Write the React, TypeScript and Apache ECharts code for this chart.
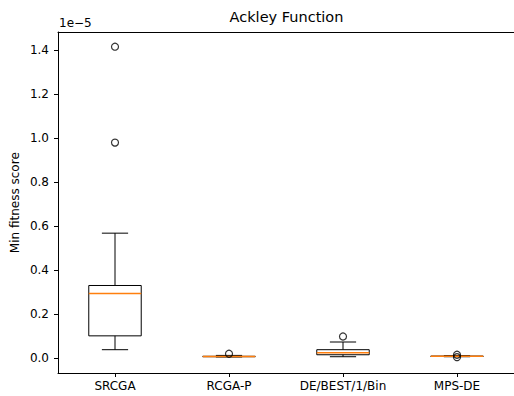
import React, { useEffect, useRef } from "react";
import * as echarts from "echarts";

// Values are in units of 1e-5
const categories = ["SRCGA", "RCGA-P", "DE/BEST/1/Bin", "MPS-DE"];
const whiskerLow = [0.038, 0.005, 0.006, 0.006];
const q1 = [0.101, 0.006, 0.015, 0.007];
const median = [0.294, 0.007, 0.024, 0.008];
const q3 = [0.33, 0.008, 0.038, 0.009];
const whiskerHigh = [0.568, 0.012, 0.073, 0.011];
const outlierCat = [0, 0, 1, 2, 3, 3];
const outlierVal = [1.416, 0.98, 0.0195, 0.098, 0.015, 0.004];
const yTicks = [0, 0.2, 0.4, 0.6, 0.8, 1.0, 1.2, 1.4];

const FONT = "DejaVu Sans";

export default function App() {
  const ref = useRef<HTMLDivElement>(null);
  useEffect(() => {
    if (!ref.current) return;
    const chart = echarts.init(ref.current, null, { renderer: "svg" });
    const boxData = categories.map((_, i) => [i, whiskerLow[i], q1[i], median[i], q3[i], whiskerHigh[i]]);
    const outData = outlierCat.map((c, i) => [c, outlierVal[i]]);
    chart.setOption({
      animation: false,
      grid: {
        left: 58,
        top: 32,
        right: 0,
        bottom: 23,
        show: false,
      },
      xAxis: [
        {
          type: "category",
          data: categories,
          axisLine: { show: true, onZero: false, lineStyle: { color: "#000", width: 1 } },
          axisTick: { show: true, alignWithLabel: true, length: 4, lineStyle: { color: "#000" } },
          axisLabel: { color: "#000", fontSize: 12, fontFamily: FONT, margin: 7 },
          splitLine: { show: false },
        },
        {
          type: "category",
          position: "top",
          data: categories,
          axisLine: { show: true, onZero: false, lineStyle: { color: "#000", width: 1 } },
          axisTick: { show: false },
          axisLabel: { show: false },
          splitLine: { show: false },
        },
      ],
      yAxis: {
        type: "value",
        min: -0.068,
        max: 1.483,
        axisLine: { show: true, lineStyle: { color: "#000", width: 1 } },
        axisTick: { show: true, length: 4, customValues: yTicks, lineStyle: { color: "#000" } },
        axisLabel: {
          color: "#000",
          fontSize: 12,
          fontFamily: FONT,
          margin: 9,
          customValues: yTicks,
          formatter: (v: number) => v.toFixed(1),
        },
        splitLine: { show: false },
      },
      graphic: [
        {
          type: "text",
          x: 286.5,
          y: 17,
          style: {
            text: "Ackley Function",
            fontSize: 14.5,
            fontFamily: FONT,
            fill: "#000",
            align: "center",
            verticalAlign: "middle",
          },
        },
        {
          type: "text",
          x: 59,
          y: 22.5,
          style: {
            text: "1e\u22125",
            fontSize: 12,
            fontFamily: FONT,
            fill: "#000",
            align: "left",
            verticalAlign: "middle",
          },
        },
        {
          type: "text",
          x: 14.5,
          y: 202.7,
          rotation: Math.PI / 2,
          style: {
            text: "Min fitness score",
            fontSize: 12,
            fontFamily: FONT,
            fill: "#000",
            align: "center",
            verticalAlign: "middle",
          },
        },
      ],
      series: [
        {
          type: "custom",
          data: boxData,
          encode: { x: 0, y: [1, 2, 3, 4, 5] },
          renderItem: (params: any, api: any) => {
            const idx = api.value(0);
            const pLow = api.coord([idx, api.value(1)]);
            const pQ1 = api.coord([idx, api.value(2)]);
            const pMed = api.coord([idx, api.value(3)]);
            const pQ3 = api.coord([idx, api.value(4)]);
            const pHigh = api.coord([idx, api.value(5)]);
            const band = api.size([1, 0])[0];
            const bw = band * 0.46;
            const cw = bw / 2;
            const cx = pMed[0];
            const stroke = { stroke: "#000", lineWidth: 1, fill: "none" };
            return {
              type: "group",
              children: [
                { type: "line", shape: { x1: cx, y1: pQ3[1], x2: cx, y2: pHigh[1] }, style: stroke },
                { type: "line", shape: { x1: cx, y1: pQ1[1], x2: cx, y2: pLow[1] }, style: stroke },
                { type: "line", shape: { x1: cx - cw / 2, y1: pHigh[1], x2: cx + cw / 2, y2: pHigh[1] }, style: stroke },
                { type: "line", shape: { x1: cx - cw / 2, y1: pLow[1], x2: cx + cw / 2, y2: pLow[1] }, style: stroke },
                {
                  type: "rect",
                  shape: { x: cx - bw / 2, y: pQ3[1], width: bw, height: pQ1[1] - pQ3[1] },
                  style: stroke,
                },
                {
                  type: "line",
                  shape: { x1: cx - bw / 2, y1: pMed[1], x2: cx + bw / 2, y2: pMed[1] },
                  style: { stroke: "#ff7f0e", lineWidth: 1.5 },
                },
              ],
            };
          },
          z: 2,
        },
        {
          type: "scatter",
          data: outData,
          symbol: "circle",
          symbolSize: 7,
          itemStyle: { color: "rgba(255,255,255,0)", borderColor: "#000", borderWidth: 1.2 },
          z: 3,
        },
      ],
    });
    return () => chart.dispose();
  }, []);
  return (
    <div
      ref={ref}
      style={{ position: "absolute", left: 0, top: 0, width: 514, height: 396 }}
    />
  );
}
